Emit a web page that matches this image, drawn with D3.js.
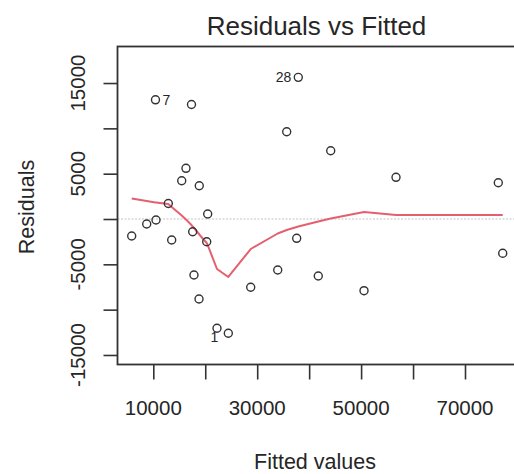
<!DOCTYPE html>
<html>
<head>
<meta charset="utf-8">
<script src="https://cdn.jsdelivr.net/npm/d3@7"></script>
<style>
  html, body { margin: 0; padding: 0; background: #fff; }
  svg { display: block; font-family: "Liberation Sans", Arial, Helvetica, sans-serif; }
</style>
</head>
<body>
<svg id="chart" width="514" height="474"></svg>
<script>
// Fitted values and residuals of the model, one entry per observation (index = obs - 1)
const fitted = [22260, 5842, 8730, 10520, 12890, 13540, 10420, 15470, 16290, 17350,
                17580, 17830, 18800, 18850, 20280, 20470, 24440, 28750, 33950, 35680,
                37600, 41760, 44150, 50560, 56720, 76410, 77260, 37910];
const residuals = [-12055, -1875, -551, -110, 1710, -2316, 13150, 4224, 5592, 12628,
                   -1401, -6176, -8823, 3673, -2504, 551, -12606, -7533, -5625, 9628,
                   -2129, -6287, 7533, -7908, 4599, 4004, -3783, 15628];
// Observations flagged with their index
const labelled = [1, 7, 28];

// Lowess smooth of residuals on fitted values
const smoothX = [5842, 8730, 10420, 10520, 12890, 13540, 15470, 16290, 17350, 17580,
                 17830, 18800, 18850, 20280, 20470, 22260, 24440, 28750, 33950, 35680,
                 37600, 37910, 41760, 44150, 50560, 56720, 76410, 77260];
const smoothY = [2261, 1985, 1820, 1820, 1654, 1323, 386, -55, -662, -827,
                 -993, -1654, -1709, -2647, -2868, -5514, -6397, -3309, -1599, -1213,
                 -882, -827, -276, 55, 772, 441, 441, 441];

// Axis ticks and the labels R keeps after dropping overlapping ones
const xTicks = [10000, 20000, 30000, 40000, 50000, 60000, 70000];
const xTickLabels = ["10000", "", "30000", "", "50000", "", "70000"];
const yTicks = [-15000, -10000, -5000, 0, 5000, 10000, 15000];
const yTickLabels = ["-15000", "", "-5000", "", "5000", "", "15000"];

const ink = "#262626";
const frame = { left: 117.5, top: 46.5, right: 520, bottom: 364.5 };

const svg = d3.select("#chart");

const x = d3.scaleLinear().domain([3109, 80587]).range([frame.left, frame.right]);
const y = d3.scaleLinear().domain([-16050, 19030]).range([frame.bottom, frame.top]);

// reference line at zero (dotted grey)
svg.append("line")
  .attr("x1", frame.left).attr("x2", frame.right)
  .attr("y1", y(0)).attr("y2", y(0))
  .attr("stroke", "#c4c4c4").attr("stroke-width", 1.2)
  .attr("stroke-dasharray", "2,1.5");

// lowess smoother
svg.append("path")
  .datum(smoothX.map((d, i) => [d, smoothY[i]]))
  .attr("fill", "none")
  .attr("stroke", "#e4606e")
  .attr("stroke-width", 2)
  .attr("stroke-linejoin", "round")
  .attr("d", d3.line().x(d => x(d[0])).y(d => y(d[1])));

// residual points
svg.append("g")
  .selectAll("circle")
  .data(fitted.map((d, i) => ({ fx: d, r: residuals[i], id: i + 1 })))
  .join("circle")
  .attr("cx", d => x(d.fx))
  .attr("cy", d => y(d.r))
  .attr("r", 4)
  .attr("fill", "none")
  .attr("stroke", "#333")
  .attr("stroke-width", 1.4);

// identify the largest residuals: right of point on the left half, left of it on the right half
const midX = (d3.min(fitted) + d3.max(fitted)) / 2;
svg.append("g")
  .selectAll("text")
  .data(labelled.map(id => ({ id, fx: fitted[id - 1], r: residuals[id - 1] })))
  .join("text")
  .attr("x", d => d.id === 28 ? x(d.fx) - 7 : (d.id === 1 ? x(d.fx) - 2.5 : x(d.fx) + 7))
  .attr("y", d => d.id === 1 ? y(d.r) + 14 : y(d.r) + 5)
  .attr("text-anchor", d => d.id === 28 ? "end" : (d.id === 1 ? "middle" : "start"))
  .attr("font-size", 14)
  .attr("fill", ink)
  .text(d => d.id);

// x axis ticks
const xAxis = svg.append("g").attr("transform", `translate(0,${frame.bottom})`)
  .call(d3.axisBottom(x).tickValues(xTicks).tickSize(15).tickFormat(""));
xAxis.select(".domain").remove();
xAxis.selectAll(".tick line").attr("stroke", "#333").attr("stroke-width", 1.6);
svg.append("g")
  .selectAll("text")
  .data(xTicks.map((d, i) => ({ v: d, t: xTickLabels[i] })).filter(d => d.t))
  .join("text")
  .attr("x", d => x(d.v))
  .attr("y", 415)
  .attr("text-anchor", "middle")
  .attr("font-size", 20.5)
  .attr("fill", ink)
  .text(d => d.t);

// y axis ticks
const yAxis = svg.append("g").attr("transform", `translate(${frame.left},0)`)
  .call(d3.axisLeft(y).tickValues(yTicks).tickSize(14).tickFormat(""));
yAxis.select(".domain").remove();
yAxis.selectAll(".tick line").attr("stroke", "#333").attr("stroke-width", 1.6);
svg.append("g")
  .selectAll("text")
  .data(yTicks.map((d, i) => ({ v: d, t: yTickLabels[i] })).filter(d => d.t))
  .join("text")
  .attr("transform", d => `translate(85,${y(d.v)}) rotate(-90)`)
  .attr("text-anchor", "middle")
  .attr("font-size", 20.5)
  .attr("fill", ink)
  .text(d => d.t);

// plot frame
svg.append("rect")
  .attr("x", frame.left).attr("y", frame.top)
  .attr("width", frame.right - frame.left).attr("height", frame.bottom - frame.top)
  .attr("fill", "none").attr("stroke", "#333").attr("stroke-width", 1.8);

// titles
svg.append("text")
  .attr("x", 316.5).attr("y", 35)
  .attr("text-anchor", "middle")
  .attr("font-size", 26)
  .attr("fill", ink)
  .text("Residuals vs Fitted");

svg.append("text")
  .attr("x", 315).attr("y", 469)
  .attr("text-anchor", "middle")
  .attr("font-size", 21.5)
  .attr("fill", ink)
  .text("Fitted values");

svg.append("text")
  .attr("transform", "translate(34,207) rotate(-90)")
  .attr("text-anchor", "middle")
  .attr("font-size", 21.5)
  .attr("fill", ink)
  .text("Residuals");
</script>
</body>
</html>
